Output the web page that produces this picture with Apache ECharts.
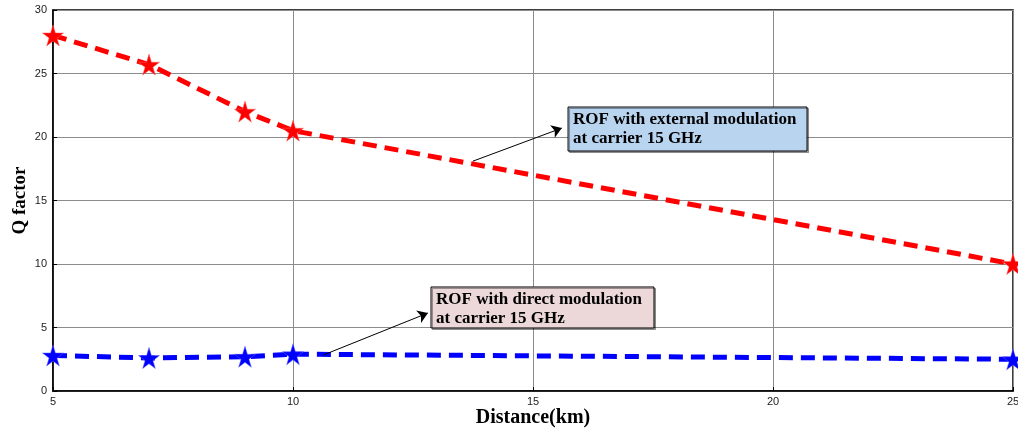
<!DOCTYPE html>
<html>
<head>
<meta charset="utf-8">
<script src="https://cdn.jsdelivr.net/npm/echarts@6/dist/echarts.min.js"></script>
<style>
  html, body { margin: 0; padding: 0; background: #fff; }
  #chart { width: 1018px; height: 432px; }
</style>
</head>
<body>
<div id="chart"></div>
<script>
// distances (km) and Q factor
const distance = [5, 7, 9, 10, 25]
const qExternal = [28, 25.7, 22, 20.5, 10]
const qDirect = [2.8, 2.6, 2.7, 2.9, 2.5]

const xTicks = [5, 10, 15, 20, 25]
const yTicks = [0, 5, 10, 15, 20, 25, 30]

// annotation anchors in data space: [arrowFrom, arrowTo, boxTopLeft]
const noteExternal = [[13.75, 18.1], [15.6, 20.7], [15.73, 22.36]]
const noteDirect = [[10.63, 2.83], [12.81, 6.14], [12.875, 8.19]]

const star = 'path://M50,0 L61,35 L98,35 L68,57 L79,91 L50,70 L21,91 L32,57 L2,35 L39,35 Z'
const serif = '"Liberation Serif", "Times New Roman", serif'
const sans = 'Arial, "Liberation Sans", sans-serif'

function pairs(xs, ys) {
  return xs.map((x, i) => [x, ys[i]])
}

function arrow(note) {
  return {
    silent: true,
    symbol: ['none', 'arrow'],
    symbolSize: 10,
    label: { show: false },
    lineStyle: { color: '#000', width: 1, type: 'solid' },
    data: [[{ coord: note[0] }, { coord: note[1] }]]
  }
}

const chart = echarts.init(document.getElementById('chart'))

chart.setOption({
  animation: false,
  backgroundColor: '#fff',
  grid: {
    left: 53, right: 5, top: 10, bottom: 41,
    outerBoundsMode: 'none',
    show: true,
    borderColor: '#000',
    borderWidth: 1.5
  },
  xAxis: {
    type: 'value',
    min: xTicks[0],
    max: xTicks[xTicks.length - 1],
    interval: 5,
    name: 'Distance(km)',
    nameLocation: 'middle',
    nameGap: 17,
    nameMoveOverlap: false,
    nameTextStyle: { fontFamily: serif, fontWeight: 'bold', fontSize: 20, color: '#000' },
    axisLine: { lineStyle: { color: '#000', width: 1.5 } },
    axisTick: { inside: true, length: 4, lineStyle: { color: '#000' } },
    axisLabel: { color: '#222', fontSize: 11, fontFamily: sans, margin: 5 },
    splitLine: { show: true, lineStyle: { color: '#8c8c8c', width: 1 } }
  },
  yAxis: {
    type: 'value',
    min: yTicks[0],
    max: yTicks[yTicks.length - 1],
    interval: 5,
    name: 'Q factor',
    nameLocation: 'middle',
    nameGap: 23,
    nameMoveOverlap: false,
    nameTextStyle: { fontFamily: serif, fontWeight: 'bold', fontSize: 19, color: '#000' },
    axisLine: { lineStyle: { color: '#000', width: 1.5 } },
    axisTick: { inside: true, length: 4, lineStyle: { color: '#000' } },
    axisLabel: { color: '#222', fontSize: 11, fontFamily: sans, margin: 6 },
    splitLine: { show: true, lineStyle: { color: '#8c8c8c', width: 1 } }
  },
  series: [
    {
      name: 'external',
      type: 'line',
      data: pairs(distance, qExternal),
      symbol: star,
      symbolSize: 21,
      itemStyle: { color: '#ff0000', borderColor: '#ff6060', borderWidth: 0.5 },
      lineStyle: { color: '#ff0000', width: 5, type: [14, 8] },
      markLine: arrow(noteExternal),
      z: 3
    },
    {
      name: 'direct',
      type: 'line',
      data: pairs(distance, qDirect),
      symbol: star,
      symbolSize: 21,
      itemStyle: { color: '#0000ff', borderColor: '#6060ff', borderWidth: 0.5 },
      lineStyle: { color: '#0000ff', width: 5, type: [14, 8] },
      markLine: arrow(noteDirect),
      z: 3
    }
  ]
})

// text boxes placed at their data-space anchors
function box(note, lines, fill, w, h) {
  const p = chart.convertToPixel({ gridIndex: 0 }, note[2])
  return {
    type: 'group',
    x: p[0], y: p[1],
    z: 10,
    children: [
      {
        type: 'rect',
        shape: { x: 0, y: 0, width: w, height: h },
        style: { fill: fill, stroke: '#000', lineWidth: 1, shadowColor: 'rgba(0,0,0,0.35)', shadowOffsetX: 1.5, shadowOffsetY: 1.5 }
      },
      {
        type: 'text',
        x: 5, y: 3,
        style: {
          text: lines.join('\n'),
          font: 'bold 17px ' + serif,
          fill: '#000',
          lineHeight: 19
        }
      }
    ]
  }
}

chart.setOption({
  graphic: [
    box(noteExternal, ['ROF with external modulation', 'at carrier 15 GHz'], '#b9d4ef', 239, 44),
    box(noteDirect, ['ROF with direct modulation', 'at carrier 15 GHz'], '#ecd8d8', 223, 41)
  ]
})
</script>
</body>
</html>
